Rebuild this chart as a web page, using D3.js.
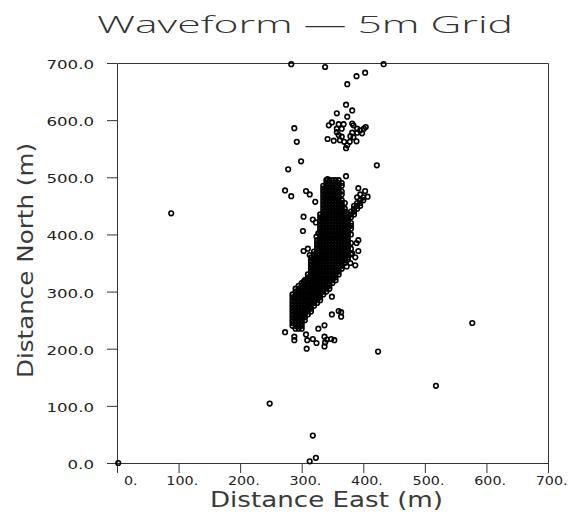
<!DOCTYPE html>
<html><head><meta charset="utf-8">
<script src="https://cdn.jsdelivr.net/npm/d3@7"></script>
<style>body{margin:0;background:#fff}svg{display:block}</style>
</head><body><svg id="c" width="571" height="523"></svg>
<script>
const chartTitle = "Waveform \u2014 5m Grid";
const xTitle = "Distance East (m)";
const yTitle = "Distance North (m)";
const xTicks = [0, 100, 200, 300, 400, 500, 600, 700];
const xTickLabels = ["0.", "100.", "200.", "300.", "400.", "500.", "600.", "700."];
const yTicks = [0, 100, 200, 300, 400, 500, 600, 700];
const yTickLabels = ["0.0", "100.0", "200.0", "300.0", "400.0", "500.0", "600.0", "700.0"];

// isolated events [east, north]
const outlierPoints = [
  [2, 0], [88, 437], [248, 104], [318, 48], [313, 3], [323, 9],
  [424, 195], [518, 135], [577, 245]
];
// events around the lower end of the main cluster
const lowerPoints = [
  [308, 200], [273, 229], [288, 221], [288, 215], [307, 225], [309, 215],
  [318, 217], [324, 210], [337, 221], [338, 211], [337, 204], [341, 216],
  [348, 217], [353, 215], [337, 241], [327, 235], [360, 266], [364, 264],
  [349, 260], [364, 256], [349, 291], [303, 317], [373, 344]
];
// events scattered around the middle of the cluster
const middlePoints = [
  [372, 502], [342, 497], [273, 477], [283, 467], [307, 476], [313, 470],
  [322, 457], [303, 431], [318, 426], [323, 421], [302, 406], [324, 396],
  [327, 402], [392, 481], [403, 476], [407, 466], [392, 390], [389, 385],
  [392, 371], [303, 371], [310, 375], [313, 364], [382, 367], [387, 360],
  [375, 356], [379, 350], [387, 346]
];
// north-east branch of the cluster
const branchPoints = [
  [395, 470], [400, 465], [390, 465], [395, 460], [400, 460], [390, 455],
  [395, 455], [385, 450], [390, 450], [395, 450], [385, 445], [390, 445],
  [380, 440], [385, 440], [380, 435], [385, 435], [375, 430], [380, 430]
];
// upper group of events (500 - 700 m north)
const upperPoints = [
  [283, 698], [338, 693], [433, 698], [403, 683], [389, 677], [374, 663],
  [372, 627], [382, 617], [357, 612], [374, 606], [288, 586], [292, 562],
  [299, 528], [278, 514], [422, 521],
  [349, 596], [344, 591], [360, 593], [368, 593], [382, 594], [384, 591],
  [404, 588], [401, 585], [357, 585], [365, 585], [390, 585], [395, 582],
  [357, 579], [382, 578], [390, 578], [398, 577], [360, 574], [379, 572],
  [342, 567], [352, 564], [362, 565], [369, 562], [378, 562], [389, 563],
  [374, 556], [372, 551], [365, 571], [384, 570]
];
// dense core on the 5 m grid: one north value per row, east values of that row
const coreNorth = [495, 490, 485, 480, 475, 470, 465, 460, 455, 450, 445, 440, 435, 430, 425,
  420, 415, 410, 405, 400, 395, 390, 385, 380, 375, 370, 365, 360, 355, 350, 345, 340, 335,
  330, 325, 320, 315, 310, 305, 300, 295, 290, 285, 280, 275, 270, 265, 260, 255, 250, 245, 240, 235];
const coreEast = [
  [340, 345, 350, 355, 360],
  [340, 345, 350, 355, 360, 365],
  [335, 340, 345, 350, 355, 360, 365],
  [335, 340, 345, 350, 355, 360],
  [335, 340, 345, 350, 355, 360, 365],
  [335, 340, 345, 350, 355, 360, 365],
  [335, 340, 345, 350, 355, 360],
  [335, 340, 345, 350, 355, 360, 365],
  [335, 340, 345, 350, 355, 360, 365, 370],
  [335, 340, 345, 350, 355, 360, 365],
  [335, 340, 345, 350, 355, 360, 365, 370],
  [335, 340, 345, 350, 355, 360, 365, 370],
  [330, 335, 340, 345, 350, 355, 360, 365, 370],
  [330, 335, 340, 345, 350, 355, 360, 365, 370, 375],
  [330, 335, 340, 345, 350, 355, 360, 365, 370, 375],
  [330, 335, 340, 345, 350, 355, 360, 365, 370, 375, 380],
  [330, 335, 340, 345, 350, 355, 360, 365, 370, 375, 380],
  [330, 335, 340, 345, 350, 355, 360, 365, 370, 375, 380],
  [330, 335, 340, 345, 350, 355, 360, 365, 370, 375],
  [330, 335, 340, 345, 350, 355, 360, 365, 370, 375, 380],
  [330, 335, 340, 345, 350, 355, 360, 365, 370, 375],
  [325, 330, 335, 340, 345, 350, 355, 360, 365, 370, 375],
  [325, 330, 335, 340, 345, 350, 355, 360, 365, 370, 375, 380],
  [325, 330, 335, 340, 345, 350, 355, 360, 365, 370, 375],
  [325, 330, 335, 340, 345, 350, 355, 360, 365, 370, 375, 380],
  [320, 325, 330, 335, 340, 345, 350, 355, 360, 365, 370, 375],
  [320, 325, 330, 335, 340, 345, 350, 355, 360, 365, 370, 375, 380],
  [315, 320, 325, 330, 335, 340, 345, 350, 355, 360, 365, 370, 375],
  [315, 320, 325, 330, 335, 340, 345, 350, 355, 360, 365, 370],
  [315, 320, 325, 330, 335, 340, 345, 350, 355, 360, 365, 370],
  [315, 320, 325, 330, 335, 340, 345, 350, 355, 360, 365],
  [315, 320, 325, 330, 335, 340, 345, 350, 355, 360, 365],
  [315, 320, 325, 330, 335, 340, 345, 350, 355, 360],
  [310, 315, 320, 325, 330, 335, 340, 345, 350, 355, 360],
  [310, 315, 320, 325, 330, 335, 340, 345, 350, 355],
  [305, 310, 315, 320, 325, 330, 335, 340, 345, 350, 355],
  [300, 305, 310, 315, 320, 325, 330, 335, 340, 345, 350],
  [295, 300, 305, 310, 315, 320, 325, 330, 335, 340, 345],
  [290, 295, 300, 305, 310, 315, 320, 325, 330, 335, 340, 345],
  [290, 295, 300, 305, 310, 315, 320, 325, 330, 335, 340],
  [285, 290, 295, 300, 305, 310, 315, 320, 325, 330, 335],
  [285, 290, 295, 300, 305, 310, 315, 320, 325, 330],
  [285, 290, 295, 300, 305, 310, 315, 320, 325, 330],
  [285, 290, 295, 300, 305, 310, 315, 320, 325],
  [285, 290, 295, 300, 305, 310, 315, 320],
  [285, 290, 295, 300, 305, 310, 315],
  [285, 290, 295, 300, 305, 310, 315],
  [285, 290, 295, 300, 305, 310],
  [285, 290, 295, 300, 305],
  [285, 290, 295, 300, 305],
  [285, 290, 295, 300],
  [285, 290, 295, 300],
  [290, 295, 300]
];

const corePoints = coreNorth.flatMap((n, i) => coreEast[i].map(e => [e, n]));
const allPoints = [].concat(corePoints, branchPoints, middlePoints, lowerPoints, upperPoints, outlierPoints);

const svg = d3.select("#c");
const L = 117, R = 548, T = 63, B = 463;
const x = d3.scaleLinear().domain([0, 700]).range([L, R]);
const y = d3.scaleLinear().domain([0, 700]).range([B, T]);
const lineColor = "#333";
const font = "'DejaVu Sans', sans-serif";
const titleFont = "'Open Sans', 'DejaVu Sans', sans-serif";

// frame top/right
svg.append("path")
  .attr("d", `M${L + 0.5},${T + 0.5}H${R + 0.5}V${B + 0.5}`)
  .attr("fill", "none").attr("stroke", lineColor).attr("stroke-width", 1);

const gx = svg.append("g").attr("transform", `translate(0,${B})`)
  .call(d3.axisBottom(x).tickValues(xTicks).tickFormat((d, i) => xTickLabels[i]).tickSize(10).tickSizeOuter(0));
const gy = svg.append("g").attr("transform", `translate(${L},0)`)
  .call(d3.axisLeft(y).tickValues(yTicks).tickFormat((d, i) => yTickLabels[i]).tickSize(10).tickSizeOuter(0));

[gx, gy].forEach(g => {
  g.select(".domain").attr("stroke", lineColor);
  g.selectAll(".tick line").attr("stroke", lineColor);
  g.selectAll("text").attr("font-family", font).attr("font-size", 13).attr("fill", "#222");
});

gx.selectAll(".tick text").each(function (d, i) {
  const t = d3.select(this);
  const len = this.getComputedTextLength() * 1.1;
  t.attr("text-anchor", "start").attr("dy", 0).attr("y", 21.5)
    .attr("textLength", len).attr("lengthAdjust", "spacingAndGlyphs")
    .attr("x", i === 0 ? 6.5 : -0.4 * len);
});
gy.selectAll(".tick text").each(function () {
  const t = d3.select(this);
  const len = this.getComputedTextLength() * 1.28;
  t.attr("text-anchor", "start").attr("dy", 0).attr("y", 5.5)
    .attr("textLength", len).attr("lengthAdjust", "spacingAndGlyphs")
    .attr("x", -(L - 94) - len);
});

// points
svg.append("g").selectAll("circle").data(allPoints).join("circle")
  .attr("cx", d => x(d[0])).attr("cy", d => y(d[1])).attr("r", 2.3)
  .attr("fill", "none").attr("stroke", "#000").attr("stroke-width", 1.6);

// titles
svg.append("text").text(chartTitle)
  .attr("x", 97).attr("y", 33).attr("font-family", titleFont).attr("font-size", 23.5)
  .attr("font-weight", 300).attr("fill", "#333")
  .attr("textLength", 416).attr("lengthAdjust", "spacingAndGlyphs");

svg.append("text").text(xTitle)
  .attr("x", 210).attr("y", 507).attr("font-family", font).attr("font-size", 20.5)
  .attr("fill", "#3a3a3a")
  .attr("textLength", 233).attr("lengthAdjust", "spacingAndGlyphs");

svg.append("text").text(yTitle)
  .attr("transform", "translate(33,378) rotate(-90)")
  .attr("x", 0).attr("y", 0).attr("font-family", font).attr("font-size", 20.5)
  .attr("fill", "#3a3a3a")
  .attr("textLength", 235).attr("lengthAdjust", "spacingAndGlyphs");
</script></body></html>
